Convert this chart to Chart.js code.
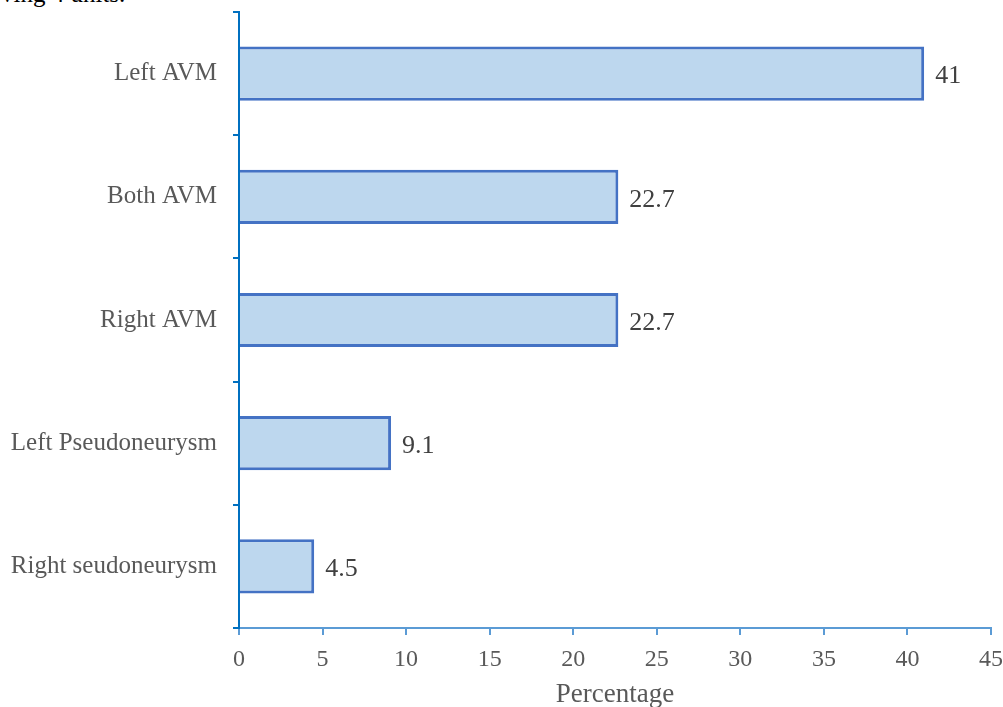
<!DOCTYPE html>
<html>
<head>
<meta charset="utf-8">
<script src="https://cdn.jsdelivr.net/npm/chart.js@4"></script>
<style>
  html, body { margin: 0; padding: 0; background: #ffffff; }
  #wrap { position: relative; width: 1003px; height: 707px; overflow: hidden; }
  #caption { position: absolute; left: 1px; top: -20px; font: 25px "Liberation Serif", serif; color: #000; white-space: nowrap; }
  canvas { position: absolute; left: 0; top: 0; }
</style>
</head>
<body>
<div id="wrap">
  <div id="caption">ving 4 units.</div>
  <canvas id="c" width="1003" height="707"></canvas>
</div>
<script>
// Lesion type distribution (percentage of cases)
const categories = ['Left AVM', 'Both AVM', 'Right AVM', 'Left Pseudoneurysm', 'Right seudoneurysm'];
const percentages = [41, 22.7, 22.7, 9.1, 4.5];
const xTicks = [0, 5, 10, 15, 20, 25, 30, 35, 40, 45];

const serif = '"Liberation Serif", "Times New Roman", serif';

// Writes each bar's value just past its end
const valueLabels = {
  id: 'valueLabels',
  afterDatasetsDraw(chart) {
    const ctx = chart.ctx;
    const meta = chart.getDatasetMeta(0);
    ctx.save();
    ctx.font = '26px ' + serif;
    ctx.fillStyle = '#404040';
    ctx.textAlign = 'left';
    ctx.textBaseline = 'middle';
    meta.data.forEach((bar, i) => {
      ctx.fillText(String(percentages[i]), bar.x + 11, bar.y + 3);
    });
    ctx.restore();
  }
};

new Chart(document.getElementById('c'), {
  type: 'bar',
  data: {
    labels: categories,
    datasets: [{
      data: percentages,
      backgroundColor: '#BDD7EE',
      borderColor: '#4472C4',
      borderWidth: 3,
      borderSkipped: 'start',
      barPercentage: 0.44,
      categoryPercentage: 1
    }]
  },
  options: {
    indexAxis: 'y',
    responsive: false,
    animation: false,
    layout: { padding: { top: 12, right: 12, left: 0, bottom: 0 } },
    plugins: { legend: { display: false }, tooltip: { enabled: false } },
    scales: {
      x: {
        type: 'linear',
        min: 0,
        max: 45,
        afterBuildTicks(scale) { scale.ticks = xTicks.map(v => ({ value: v })); },
        afterFit(scale) { scale.height = 79; scale.paddingLeft = 0; scale.paddingRight = 0; },
        border: { display: true, color: '#5B9BD5', width: 2 },
        grid: { display: true, drawOnChartArea: false, drawTicks: true, tickLength: 7, color: '#5B9BD5', lineWidth: 2 },
        ticks: { color: '#595959', font: { family: serif, size: 24 }, padding: 10, maxRotation: 0 },
        title: { display: true, text: 'Percentage', color: '#595959', font: { family: serif, size: 27 }, padding: { top: 0, bottom: -4 } }
      },
      y: {
        z: 1,
        afterFit(scale) { scale.width = 239; scale.paddingTop = 0; scale.paddingBottom = 0; },
        border: { display: true, color: '#0070C0', width: 2 },
        grid: { display: true, offset: true, drawOnChartArea: false, drawTicks: true, tickLength: 6, color: '#0070C0', lineWidth: 2 },
        ticks: { color: '#595959', font: { family: serif, size: 25 }, padding: 16 }
      }
    }
  },
  plugins: [valueLabels]
});
</script>
</body>
</html>
